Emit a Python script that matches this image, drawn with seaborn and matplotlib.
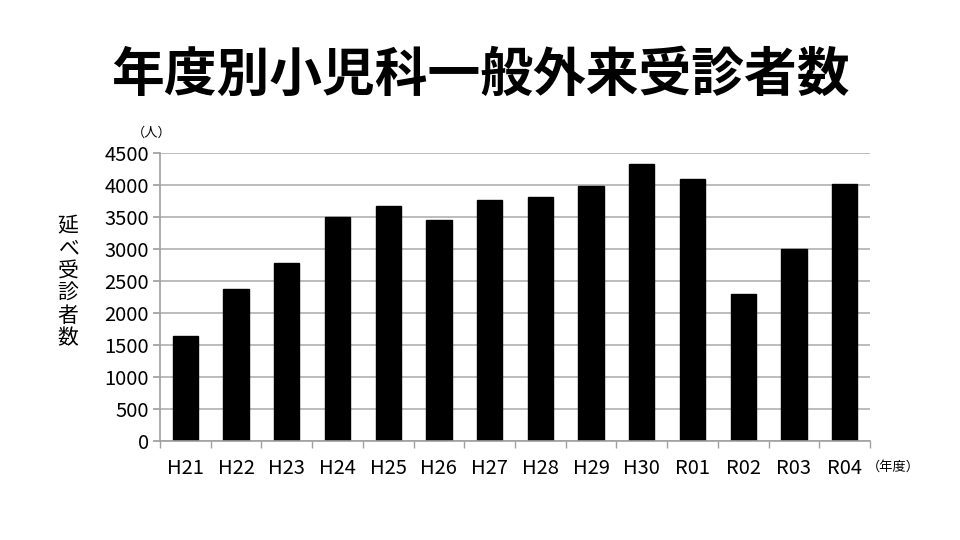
import matplotlib
matplotlib.use("Agg")
import matplotlib.pyplot as plt
import seaborn as sns
import numpy as np
import pandas as pd

years = ["H21", "H22", "H23", "H24", "H25", "H26", "H27", "H28", "H29", "H30", "R01", "R02", "R03", "R04"]
patients = [1640, 2375, 2775, 3505, 3665, 3450, 3760, 3820, 3990, 4335, 4090, 2295, 3005, 4020]
yticks = [0, 500, 1000, 1500, 2000, 2500, 3000, 3500, 4000, 4500]

sns.set_theme(style="white")
plt.rcParams['font.family'] = ['Noto Sans CJK JP', 'DejaVu Sans']
plt.rcParams['text.color'] = 'black'
plt.rcParams['xtick.color'] = 'black'
plt.rcParams['ytick.color'] = 'black'

df = pd.DataFrame({"year": years, "count": patients})

fig = plt.figure(figsize=(9.6, 5.4), dpi=100)
ax = fig.add_axes([160/960, 1-441/540, 710/960, 288/540])
sns.barplot(data=df, x="year", y="count", color="black", width=0.5, ax=ax,
            saturation=1, edgecolor="black")

ax.set_ylim(0, 4500)
ax.set_xlim(-0.5, len(years) - 0.5)
ax.set_yticks(yticks)
ax.set_yticklabels([str(v) for v in yticks], fontsize=14.5)
ax.set_xticks(range(len(years)))
ax.set_xticklabels(years, fontsize=14.5)
ax.yaxis.grid(True, color="#b0b0b0", linewidth=1.2)
ax.set_axisbelow(True)
for s in ["top", "right"]:
    ax.spines[s].set_visible(False)
ax.spines["left"].set_color("#a0a0a0")
ax.spines["bottom"].set_color("#a0a0a0")
ax.spines["left"].set_linewidth(1.2)
ax.spines["bottom"].set_linewidth(1.2)
ax.tick_params(axis="y", which="major", length=5, color="#a0a0a0", labelcolor="black", left=True, pad=3)
ax.tick_params(axis="x", which="major", length=0, pad=12, labelcolor="black")
ax.set_xticks(np.arange(-0.5, len(years), 1.0), minor=True)
ax.tick_params(axis="x", which="minor", length=5, color="#a0a0a0", bottom=True, direction="out")
ax.set_xlabel("")
ax.set_ylabel("")

fig.text(480/960, 1-75/540, "年度別小児科一般外来受診者数", ha="center", va="center",
         fontsize=38, fontweight="bold", color="black")
fig.text(68/960, 1-282/540, "\n".join("延べ受診者数"), ha="center", va="center",
         fontsize=15, linespacing=1.02, color="black")
fig.text(152/960, 1-133/540, "（人）", ha="center", va="center", fontsize=9.5, color="black")
fig.text(893/960, 1-467/540, "（年度）", ha="center", va="center", fontsize=9.5, color="black")

fig.savefig("out.png", dpi=100)
